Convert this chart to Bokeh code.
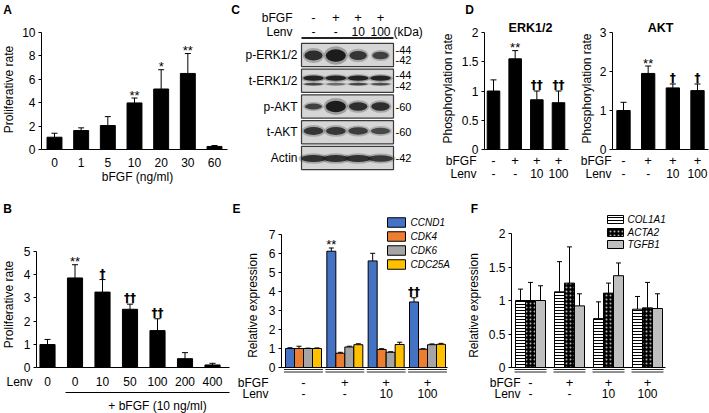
import math
from bokeh.plotting import figure
from bokeh.models import Range1d, FixedTicker, ColumnDataSource, Whisker, TeeHead
from bokeh.layouts import row, column
from bokeh.core.properties import value
from bokeh.embed import file_html
from bokeh.resources import INLINE

# ---------------- data ----------------
a_conc = ["0", "1", "5", "10", "20", "30", "60"]
a_mean = [1.05, 1.62, 2.05, 3.98, 5.17, 6.5, 0.26]
a_err = [0.34, 0.23, 0.76, 0.42, 1.65, 1.7, 0.08]
a_sig = ["", "", "", "**", "*", "**", ""]
a_yticks = [0, 2, 4, 6, 8, 10]

b_lenv = ["0", "0", "10", "50", "100", "200", "400"]
b_mean = [0.99, 3.86, 3.25, 2.51, 1.59, 0.38, 0.11]
b_err = [0.22, 0.57, 0.54, 0.22, 0.51, 0.26, 0.07]
b_sig = ["", "**", "†", "††", "††", "", ""]
b_yticks = [0, 1, 2, 3, 4, 5]

c_bfgf = ["-", "+", "+", "+"]
c_lenv = ["-", "-", "10", "100"]
c_rows = ["p-ERK1/2", "t-ERK1/2", "p-AKT", "t-AKT", "Actin"]
c_kda = [["-44", "-42"], ["-44", "-42"], ["-60"], ["-60"], ["-42"]]
c_perk = [0.75, 1.0, 0.65, 0.5]
c_terk_upper = [1.0, 1.0, 1.0, 1.0]
c_terk_lower = [0.8, 0.55, 0.8, 0.75]
c_pakt = [0.45, 1.0, 0.7, 0.7]
c_takt = [0.9, 0.9, 0.85, 0.75]
c_actin = [1.0, 1.0, 1.0, 0.95]

d_bfgf = ["-", "+", "+", "+"]
d_lenv = ["-", "-", "10", "100"]
d_erk_mean = [1.0, 1.55, 0.85, 0.8]
d_erk_err = [0.19, 0.14, 0.15, 0.2]
d_erk_sig = ["", "**", "††", "††"]
d_akt_mean = [1.0, 1.95, 1.58, 1.51]
d_akt_err = [0.21, 0.19, 0.1, 0.17]
d_akt_sig = ["", "**", "†", "†"]
d_erk_yticks = [0, 0.5, 1, 1.5, 2]
d_akt_yticks = [0, 1, 2, 3]

e_bfgf = ["-", "+", "+", "+"]
e_lenv = ["-", "-", "10", "100"]
e_genes = ["CCND1", "CDK4", "CDK6", "CDC25A"]
e_ccnd1 = [1.0, 6.12, 5.61, 3.45]
e_ccnd1_err = [0.04, 0.17, 0.4, 0.22]
e_cdk4 = [1.0, 0.75, 0.95, 0.96]
e_cdk4_err = [0.12, 0.05, 0.04, 0.03]
e_cdk6 = [1.0, 1.08, 0.8, 1.2]
e_cdk6_err = [0.02, 0.04, 0.03, 0.04]
e_cdc25a = [1.0, 1.2, 1.21, 1.22]
e_cdc25a_err = [0.03, 0.05, 0.12, 0.05]
e_ccnd1_sig = ["", "**", "", "††"]
e_yticks = [0, 1, 2, 3, 4, 5, 6, 7]

f_bfgf = ["-", "+", "+", "+"]
f_lenv = ["-", "-", "10", "100"]
f_genes = ["COL1A1", "ACTA2", "TGFB1"]
f_col1a1 = [1.0, 1.13, 0.73, 0.87]
f_col1a1_err = [0.17, 0.45, 0.25, 0.19]
f_acta2 = [1.0, 1.26, 1.11, 0.89]
f_acta2_err = [0.27, 0.54, 0.15, 0.38]
f_tgfb1 = [1.0, 0.92, 1.37, 0.88]
f_tgfb1_err = [0.22, 0.18, 0.19, 0.22]
f_yticks = [0, 0.5, 1, 1.5, 2]

# ---------------- layout helpers ----------------
FONT = "Liberation Sans"
SIGFONT = "DejaVu Sans"
FS = "12px"


def make_panel(rect, xmap, ymap, axis_px=None):
    L, T, R, B = rect

    def xd(px):
        return xmap[0] + (px - xmap[1]) * (xmap[2] - xmap[0]) / (xmap[3] - xmap[1])

    def yd(py):
        return ymap[0] + (py - ymap[1]) * (ymap[2] - ymap[0]) / (ymap[3] - ymap[1])

    p = figure(width=R - L, height=B - T,
               x_range=Range1d(xd(L), xd(R)), y_range=Range1d(yd(B), yd(T)),
               output_backend="svg", toolbar_location=None, title=None,
               x_axis_location=None, y_axis_location="left" if axis_px is not None else None)
    p.min_border_left = 0
    p.min_border_right = 0
    p.min_border_top = 0
    p.min_border_bottom = 0
    p.outline_line_color = None
    p.background_fill_color = "white"
    p.border_fill_color = "white"
    p.grid.visible = False
    if axis_px is not None:
        p.yaxis[0].fixed_location = xd(axis_px)
    return p, xd, yd


def style_y(p, ticks, top, overrides=None):
    ax = p.yaxis[0]
    ax.ticker = FixedTicker(ticks=ticks)
    ax.bounds = (0, top)
    ax.major_tick_in = 0
    ax.major_tick_out = 3
    ax.minor_tick_line_color = None
    ax.axis_line_color = "black"
    ax.major_tick_line_color = "black"
    ax.major_label_text_font = FONT
    ax.major_label_text_font_size = FS
    ax.major_label_text_color = "black"
    ax.major_label_standoff = 3
    if overrides:
        ax.major_label_overrides = overrides


def txt(p, xs, ys, texts, size=FS, align="center", baseline="middle", style="normal", yoff=0,
        angle=0.0, font=FONT):
    src = ColumnDataSource(dict(x=list(xs), y=list(ys), t=list(texts)))
    p.text(x="x", y="y", text="t", source=src, text_font=value(font), text_font_size=value(size),
           text_align=align, text_baseline=baseline, text_font_style=style, y_offset=yoff,
           angle=angle, text_color="black")


def bars(p, xs, means, errs, width, fill="black", cap=6, **kw):
    up = [m + e for m, e in zip(means, errs)]
    src = ColumnDataSource(dict(x=list(xs), mean=list(means), up=up))
    p.vbar(x="x", top="mean", bottom=0, width=width, source=src, fill_color=fill,
           line_color="black", line_width=1, **kw)
    p.add_layout(Whisker(source=src, base="x", upper="up", lower="mean", dimension="height",
                         line_color="black", line_width=1, lower_head=None,
                         upper_head=TeeHead(size=cap, line_color="black", line_width=1)))
    return up


def sig(p, xs, ups, sigs):
    ax, ay, at, dx, dy, dt = [], [], [], [], [], []
    for x, u, s in zip(xs, ups, sigs):
        if not s:
            continue
        if "*" in s:
            ax.append(x); ay.append(u); at.append(s)
        else:
            dx.append(x); dy.append(u); dt.append(s)
    if at:
        txt(p, ax, ay, at, size="13px", baseline="alphabetic", yoff=-3)
    if dt:
        txt(p, dx, dy, dt, size="12px", baseline="alphabetic", yoff=-6, font=SIGFONT, style="bold")


# ---------------- Panel A ----------------
pA, xd, yd = make_panel((0, 0, 230, 197), (0, 54, 6, 214), (0, 149, 10, 32), axis_px=41)
style_y(pA, a_yticks, 10)
xs = list(range(len(a_conc)))
ups = bars(pA, xs, a_mean, a_err, 0.56)
pA.segment(x0=[xd(41)], y0=[0], x1=[xd(227)], y1=[0], line_color="black", line_width=1)
txt(pA, xs, [yd(162)] * len(xs), a_conc)
txt(pA, [xd(137)], [yd(176)], ["bFGF (ng/ml)"])
sig(pA, xs, ups, a_sig)
txt(pA, [xd(8)], [yd(89)], ["Proliferative rate"], angle=math.pi / 2)
txt(pA, [xd(7)], [yd(9)], ["A"], style="bold")

# ---------------- Panel B ----------------
pB, xd, yd = make_panel((0, 197, 230, 413), (0, 47, 6, 212), (0, 367, 5, 251), axis_px=36)
style_y(pB, b_yticks, 5)
xs = list(range(len(b_lenv)))
ups = bars(pB, xs, b_mean, b_err, 0.55)
pB.segment(x0=[xd(36)], y0=[0], x1=[xd(229)], y1=[0], line_color="black", line_width=1)
txt(pB, xs, [yd(381)] * len(xs), b_lenv)
txt(pB, [xd(32)], [yd(381)], ["Lenv"], align="right")
pB.segment(x0=[xd(65)], y0=[yd(392)], x1=[xd(229)], y1=[yd(392)], line_color="black", line_width=1)
txt(pB, [xd(157)], [yd(405)], ["+ bFGF (10 ng/ml)"])
sig(pB, xs, ups, b_sig)
txt(pB, [xd(8)], [yd(304)], ["Proliferative rate"], angle=math.pi / 2)
txt(pB, [xd(7)], [yd(208)], ["B"], style="bold")

# ---------------- Panel C (blot) ----------------
pC, xd, yd = make_panel((230, 0, 438, 197), (1, 313, 4, 380), (0, 54.5, 4, 157.5))
lanes = [1, 2, 3, 4]
nrow = len(c_rows)
pC.rect(x=[(xd(301) + xd(393)) / 2] * nrow, y=list(range(nrow)), width=xd(393) - xd(301),
        height=0.9, fill_color="#d6d6d6", line_color="#3a3a3a", line_width=1.2)
pC.segment(x0=[xd(301)], y0=[yd(37.5)], x1=[xd(393)], y1=[yd(37.5)], line_color="#222222", line_width=2.2)


def band(p, ys, ws, hs, alphas):
    p.ellipse(x=lanes, y=ys, width=[w * 1.2 for w in ws], height=[h * 1.5 for h in hs],
              fill_color="#3a3a3a", fill_alpha=[a * 0.35 for a in alphas], line_color=None)
    p.ellipse(x=lanes, y=ys, width=ws, height=hs, fill_color="#1c1c1c", fill_alpha=alphas, line_color=None)


band(pC, [0.02] * 4, [0.55 + 0.35 * i for i in c_perk], [0.1 + 0.38 * i for i in c_perk],
     [min(1, 0.5 + 0.5 * i) for i in c_perk])
band(pC, [0.9] * 4, [0.92] * 4, [0.2 * i for i in c_terk_upper], [0.95 * i for i in c_terk_upper])
band(pC, [1.13] * 4, [0.86] * 4, [0.1] * 4, [0.9 * i for i in c_terk_lower])
band(pC, [2.0] * 4, [0.65 + 0.25 * i for i in c_pakt], [0.06 + 0.38 * i for i in c_pakt],
     [min(1, 0.55 + 0.45 * i) for i in c_pakt])
band(pC, [2.95] * 4, [0.75 + 0.15 * i for i in c_takt], [0.34 * i for i in c_takt],
     [0.1 + 0.8 * i for i in c_takt])
band(pC, [4.02] * 4, [1.12] * 4, [0.27 * i for i in c_actin], [0.85 * i for i in c_actin])

txt(pC, [xd(297)] * nrow, list(range(nrow)), c_rows, align="right")
kx, ky, kt = [], [], []
for i, ks in enumerate(c_kda):
    if len(ks) == 2:
        kx += [xd(395)] * 2; ky += [i - 0.21, i + 0.19]; kt += ks
    else:
        kx.append(xd(395)); ky.append(i); kt += ks
txt(pC, kx, ky, kt, size="11px", align="left")
txt(pC, [xd(292)], [yd(17)], ["bFGF"], align="right")
txt(pC, [xd(292)], [yd(31)], ["Lenv"], align="right")
txt(pC, lanes, [yd(17)] * 4, c_bfgf, size="13px")
txt(pC, lanes, [yd(31)] * 4, c_lenv)
txt(pC, [xd(393)], [yd(31)], ["(kDa)"], align="left")
txt(pC, [xd(235)], [yd(9)], ["C"], style="bold")

# ---------------- Panel D (ERK, AKT) ----------------
erk_over = {0: "0", 0.5: "0.5", 1: "1", 1.5: "1.5", 2: "2"}
pD1, xd, yd = make_panel((438, 0, 577, 197), (0, 493, 3, 558), (0, 149, 2, 32), axis_px=484)
style_y(pD1, d_erk_yticks, 2, erk_over)
xs = list(range(4))
ups = bars(pD1, xs, d_erk_mean, d_erk_err, 0.58)
pD1.segment(x0=[xd(484)], y0=[0], x1=[xd(568)], y1=[0], line_color="black", line_width=1)
txt(pD1, [xd(530)], [yd(27)], ["ERK1/2"], size="12.5px", style="bold")
txt(pD1, xs, [yd(160)] * 4, d_bfgf, size="13px")
txt(pD1, xs, [yd(173)] * 4, d_lenv)
txt(pD1, [xd(476)], [yd(160)], ["bFGF"], align="right")
txt(pD1, [xd(476)], [yd(173)], ["Lenv"], align="right")
sig(pD1, xs, ups, d_erk_sig)
txt(pD1, [xd(447)], [yd(88)], ["Phosphorylation rate"], angle=math.pi / 2)
txt(pD1, [xd(469)], [yd(9)], ["D"], style="bold")

pD2, xd, yd = make_panel((577, 0, 709, 197), (0, 623, 3, 697), (0, 149, 3, 32), axis_px=612)
style_y(pD2, d_akt_yticks, 3)
ups = bars(pD2, xs, d_akt_mean, d_akt_err, 0.54)
pD2.segment(x0=[xd(612)], y0=[0], x1=[xd(708)], y1=[0], line_color="black", line_width=1)
txt(pD2, [xd(660)], [yd(27)], ["AKT"], size="12.5px", style="bold")
txt(pD2, xs, [yd(160)] * 4, d_bfgf, size="13px")
txt(pD2, xs, [yd(173)] * 4, d_lenv)
txt(pD2, [xd(611)], [yd(160)], ["bFGF"], align="right")
txt(pD2, [xd(611)], [yd(173)], ["Lenv"], align="right")
sig(pD2, xs, ups, d_akt_sig)
txt(pD2, [xd(586)], [yd(88)], ["Phosphorylation rate"], angle=math.pi / 2)

# ---------------- Panel E ----------------
pE, xd, yd = make_panel((230, 197, 460, 413), (0, 303, 3, 427), (0, 367, 7, 234), axis_px=281)
style_y(pE, e_yticks, 7)
groups = list(range(4))
bw = 9.0 / ((427 - 303) / 3.0)
e_series = [(e_ccnd1, e_ccnd1_err, "#4472C4"), (e_cdk4, e_cdk4_err, "#ED7D31"),
            (e_cdk6, e_cdk6_err, "#A5A5A5"), (e_cdc25a, e_cdc25a_err, "#FFC000")]
ccnd1_ups, ccnd1_xs = None, None
for k, (m, e, col) in enumerate(e_series):
    xk = [g + (k - 1.5) * bw for g in groups]
    u = bars(pE, xk, m, e, bw, fill=col, cap=5)
    if k == 0:
        ccnd1_ups, ccnd1_xs = u, xk
sig(pE, ccnd1_xs, ccnd1_ups, e_ccnd1_sig)
pE.segment(x0=[xd(281)], y0=[0], x1=[xd(447)], y1=[0], line_color="black", line_width=1)
for yy in (369, 371.5):
    pE.segment(x0=[g - 0.47 for g in groups], y0=[yd(yy)] * 4, x1=[g + 0.47 for g in groups],
               y1=[yd(yy)] * 4, line_color="#222222", line_width=1)
txt(pE, groups, [yd(382)] * 4, e_bfgf, size="13px")
txt(pE, groups, [yd(393)] * 4, e_lenv)
txt(pE, [xd(268)], [yd(382)], ["bFGF"], align="right")
txt(pE, [xd(268)], [yd(393)], ["Lenv"], align="right")
leg_rows = [222, 236, 250, 264]
pE.rect(x=[xd(396)] * 4, y=[yd(r) for r in leg_rows], width=xd(405) - xd(387),
        height=yd(0) - yd(9.5), fill_color=[s[2] for s in e_series], line_color="black", line_width=1)
txt(pE, [xd(410)] * 4, [yd(r) for r in leg_rows], e_genes, size="10px", align="left", style="italic")
txt(pE, [xd(252)], [yd(305)], ["Relative expression"], angle=math.pi / 2)
txt(pE, [xd(236)], [yd(208)], ["E"], style="bold")

# ---------------- Panel F ----------------
f_over = {0: "0", 0.5: "0.5", 1: "1", 1.5: "1.5", 2: "2"}
pF, xd, yd = make_panel((460, 197, 709, 413), (0, 530, 3, 647), (0, 367, 2, 233), axis_px=511)
style_y(pF, f_yticks, 2, f_over)
bwf = 10.0 / ((647 - 530) / 3.0)
f_styles = [dict(fill="white", hatch_pattern="horizontal_line", hatch_color="black", hatch_scale=3, hatch_weight=1),
            dict(fill="black", hatch_pattern="dot", hatch_color="white", hatch_scale=4, hatch_weight=1,
                 hatch_alpha=0.7),
            dict(fill="#BFBFBF")]
f_series = [(f_col1a1, f_col1a1_err), (f_acta2, f_acta2_err), (f_tgfb1, f_tgfb1_err)]
for k, ((m, e), st) in enumerate(zip(f_series, f_styles)):
    xk = [g + (k - 1) * bwf for g in groups]
    st = dict(st)
    fill = st.pop("fill")
    bars(pF, xk, m, e, bwf, fill=fill, cap=5, **st)
pF.segment(x0=[xd(511)], y0=[0], x1=[xd(665)], y1=[0], line_color="black", line_width=1)
for yy in (369, 371.5):
    pF.segment(x0=[g - 0.41 for g in groups], y0=[yd(yy)] * 4, x1=[g + 0.41 for g in groups],
               y1=[yd(yy)] * 4, line_color="#222222", line_width=1)
txt(pF, groups, [yd(382)] * 4, f_bfgf, size="13px")
txt(pF, groups, [yd(393)] * 4, f_lenv)
txt(pF, [xd(520)], [yd(382)], ["bFGF"], align="right")
txt(pF, [xd(520)], [yd(393)], ["Lenv"], align="right")
fleg_rows = [219, 232, 244]
for r, st in zip(fleg_rows, f_styles):
    st = dict(st)
    fill = st.pop("fill")
    pF.rect(x=[xd(615)], y=[yd(r)], width=xd(623) - xd(607), height=yd(0) - yd(8),
            fill_color=fill, line_color="black", line_width=1, **st)
txt(pF, [xd(627)] * 3, [yd(r) for r in fleg_rows], f_genes, size="10px", align="left", style="italic")
txt(pF, [xd(473)], [yd(305)], ["Relative expression"], angle=math.pi / 2)
txt(pF, [xd(474)], [yd(208)], ["F"], style="bold")

layout = column(row(pA, pC, pD1, pD2), row(pB, pE, pF))
open("out.html", "w").write(file_html(layout, INLINE, "chart"))
